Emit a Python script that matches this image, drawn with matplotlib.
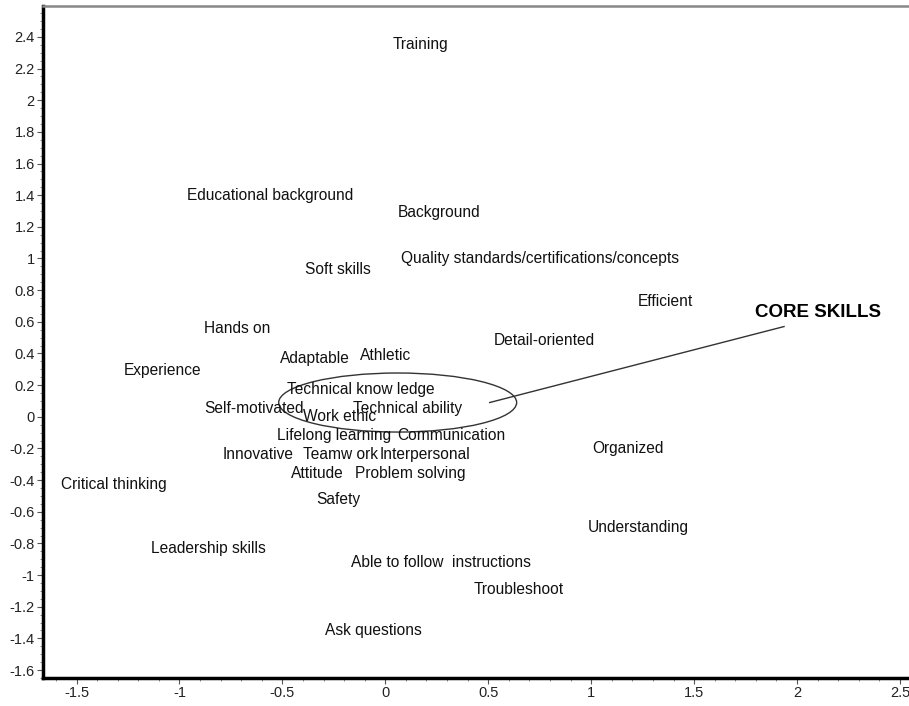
import numpy as np
import matplotlib.pyplot as plt
from matplotlib.patches import Ellipse
from matplotlib.ticker import MultipleLocator, FixedLocator

plt.rcParams['font.family'] = ['Liberation Sans', 'DejaVu Sans']

# skill terms and their positions on the two dimensions
labels = ['Training', 'Educational background', 'Background',
          'Quality standards/certifications/concepts', 'Soft skills', 'Efficient',
          'Hands on', 'Detail-oriented', 'Adaptable', 'Athletic', 'Experience',
          'Technical know ledge', 'Self-motivated', 'Technical ability', 'Work ethic',
          'Lifelong learning', 'Communication', 'Innovative', 'Teamw ork',
          'Interpersonal', 'Organized', 'Critical thinking', 'Attitude',
          'Problem solving', 'Safety', 'Understanding', 'Leadership skills',
          'Able to follow  instructions', 'Troubleshoot', 'Ask questions']
dim1 = [0.17, -0.56, 0.26, 0.75, -0.23, 1.36,
        -0.72, 0.77, -0.34, 0.0, -1.08,
        -0.12, -0.64, 0.11, -0.22,
        -0.25, 0.32, -0.62, -0.22,
        0.195, 1.18, -1.32, -0.33,
        0.12, -0.23, 1.23, -0.86,
        0.27, 0.65, -0.06]
dim2 = [2.35, 1.40, 1.29, 1.00, 0.93, 0.73,
        0.56, 0.48, 0.37, 0.385, 0.29,
        0.17, 0.05, 0.05, 0.0,
        -0.12, -0.12, -0.24, -0.24,
        -0.24, -0.20, -0.43, -0.36,
        -0.36, -0.52, -0.70, -0.83,
        -0.92, -1.09, -1.35]

# core skills cluster outline and callout
core_center = (0.06, 0.09)
core_size = (1.156, 0.373)
callout_x = [0.507, 1.937]
callout_y = [0.09, 0.57]
core_label = ('CORE SKILLS', 2.10, 0.66)

y_ticks = [-1.6, -1.4, -1.2, -1, -0.8, -0.6, -0.4, -0.2, 0,
           0.2, 0.4, 0.6, 0.8, 1, 1.2, 1.4, 1.6, 1.8, 2, 2.2, 2.4]


def fmt(v, p):
    v = round(v, 2) + 0.0
    return f'{v:g}'


fig = plt.figure(figsize=(9.09, 7.06), dpi=100)
ax = fig.add_axes([0.0473, 0.0397, 0.9527, 0.9518])
ax.set_xlim(-1.663, 2.544)
ax.set_ylim(-1.65, 2.595)

for lab, x, y in zip(labels, dim1, dim2):
    ax.text(x, y, lab, ha='center', va='center', fontsize=11.2, color='#111111')

ax.add_patch(Ellipse(core_center, core_size[0], core_size[1], fill=False,
                     edgecolor='#333333', lw=1.0))
ax.plot(callout_x, callout_y, color='#333333', lw=1.0)
ax.text(core_label[1], core_label[2], core_label[0], ha='center', va='center',
        fontsize=13.5, fontweight='bold', color='black')

ax.xaxis.set_major_locator(MultipleLocator(0.5))
ax.xaxis.set_minor_locator(MultipleLocator(0.1))
ax.yaxis.set_major_locator(FixedLocator(y_ticks))
ax.yaxis.set_minor_locator(MultipleLocator(0.05))
ax.xaxis.set_major_formatter(plt.FuncFormatter(fmt))
ax.yaxis.set_major_formatter(plt.FuncFormatter(fmt))
ax.tick_params(which='major', direction='out', length=4, width=0.8,
               labelsize=10.5, color='#555555', labelcolor='#222222', pad=2)
ax.tick_params(which='minor', direction='out', length=2, width=0.6, color='#777777')

ax.spines['right'].set_visible(False)
ax.spines['left'].set_linewidth(2.5)
ax.spines['bottom'].set_linewidth(2.5)
ax.spines['top'].set_color('#888888')
ax.spines['top'].set_linewidth(1.8)

fig.savefig('out.png', dpi=100)
